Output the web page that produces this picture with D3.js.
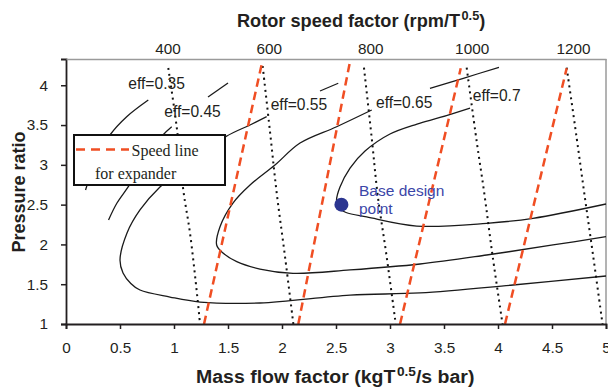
<!DOCTYPE html>
<html>
<head>
<meta charset="utf-8">
<script src="https://cdn.jsdelivr.net/npm/d3@7"></script>
<style>
  html, body { margin: 0; padding: 0; background: #fff; }
  svg { display: block; }
  text { font-family: "Liberation Sans", Arial, sans-serif; fill: #231f20; }
</style>
</head>
<body>
<svg id="chart" width="608" height="391"></svg>
<script>
// ---------- data ----------
const massTicks = [0, 0.5, 1, 1.5, 2, 2.5, 3, 3.5, 4, 4.5, 5];
const prTicks = [1, 1.5, 2, 2.5, 3, 3.5, 4];
const rpmTicks = [400, 600, 800, 1000, 1200];

// efficiency contours (each is a list of visible segments, [massFlow, pressureRatio])
const eff035 = [[[0.762,3.815],[0.562,3.605],[0.407,3.375],[0.278,3.061],[0.181,2.684]]];
const eff045 = [
  [[1.500,4.028],[1.315,3.853]],
  [[0.979,3.479],[0.898,3.375],[0.731,3.061],[0.577,2.725],[0.472,2.520],[0.394,2.307]]
];
const eff055 = [
  [[2.521,4.025],[2.352,3.928]],
  [[1.858,3.605],[1.704,3.501],[1.479,3.354],[1.148,3.023],[0.870,2.722],[0.685,2.433],
   [0.565,2.144],[0.500,1.804],[0.528,1.641],[0.600,1.510],[0.685,1.427],[0.963,1.339],[1.241,1.276],
   [1.796,1.264],[2.630,1.364],[3.278,1.390],[4.139,1.490],[5.000,1.603]]
];
const eff065 = [
  [[4.009,4.226],[3.679,4.088],[3.370,3.962]],
  [[2.831,3.689],[2.506,3.479],[2.167,3.274],[1.935,2.998],[1.704,2.747],[1.546,2.520],
   [1.426,2.223],[1.395,1.993],[1.454,1.892],[1.581,1.783],[1.796,1.691],[2.102,1.637],
   [2.630,1.679],[3.278,1.754],[3.895,1.867],[4.509,1.993],[5.000,2.097]]
];
const eff070 = [
  [[3.741,3.714],[3.463,3.595],[3.250,3.513],[3.000,3.388],[2.769,3.174],[2.630,2.960],
   [2.537,2.722],[2.505,2.558],[2.523,2.458],[2.593,2.401],[2.784,2.345],[3.247,2.231],
   [3.895,2.265],[4.324,2.328],[5.000,2.508]]
];
const contours = [eff035, eff045, eff055, eff065, eff070];

// rotor speed lines (black dotted): 400, 600, 800, 1000, 1200
const speed400 = [[0.947,4.217],[1.025,3.475],[1.086,2.684],[1.148,2.144],[1.216,1.339],[1.241,1.0]];
const speed600 = [[1.821,4.242],[1.889,3.416],[1.951,2.646],[2.028,1.846],[2.105,1.0]];
const speed800 = [[2.759,4.221],[2.831,3.333],[2.886,2.621],[2.969,1.846],[3.053,1.0]];
const speed1000 = [[3.710,4.221],[3.803,3.291],[3.870,2.671],[3.951,1.846],[4.042,1.0]];
const speed1200 = [[4.636,4.221],[4.729,3.333],[4.796,2.671],[4.882,1.846],[4.968,1.0]];
const speedLines = [speed400, speed600, speed800, speed1000, speed1200];

// expander speed lines (red dashed)
const expander = [
  [[1.278,1.0],[1.818,4.299]],
  [[2.151,1.0],[2.630,4.299]],
  [[3.093,1.0],[3.655,4.213]],
  [[4.065,1.0],[4.636,4.213]]
];

const designPoint = [2.55, 2.50];

const effLabels = ["eff=0.35", "eff=0.45", "eff=0.55", "eff=0.65", "eff=0.7"];
const effLabelAt = [[0.577,3.947],[0.910,3.601],[1.895,3.689],[2.870,3.711],[3.766,3.806]];
const designLabel = ["Base design", "point"];
const designLabelAt = [[2.713,2.608],[2.713,2.382]];
const legendLines = ["Speed line", "for expander"];

// ---------- drawing ----------
const svg = d3.select("#chart");
const x = d3.scaleLinear().domain([0, 5]).range([66, 606]);
const y = d3.scaleLinear().domain([1, 4.33]).range([324, 59]);
const rpm = d3.scaleLinear().domain([200, 1265]).range([66, 606]);

const line = d3.line().x(d => x(d[0])).y(d => y(d[1]));
const smooth = d3.line().x(d => x(d[0])).y(d => y(d[1])).curve(d3.curveCatmullRom.alpha(0.5));

// frame (right gray)
svg.append("line").attr("x1", x(5)).attr("x2", x(5)).attr("y1", y(4.33)).attr("y2", y(1))
  .attr("stroke", "#9a9a9a").attr("stroke-width", 1.5);

// contours
contours.forEach(c => c.forEach(seg => {
  svg.append("path").attr("d", smooth(seg)).attr("fill", "none")
    .attr("stroke", "#1a1a1a").attr("stroke-width", 1.3);
}));

// rotor speed dotted lines
speedLines.forEach(s => {
  svg.append("path").attr("d", smooth(s)).attr("fill", "none")
    .attr("stroke", "#111").attr("stroke-width", 2).attr("stroke-dasharray", "2,4");
});

// expander lines
expander.forEach(s => {
  svg.append("path").attr("d", line(s)).attr("fill", "none")
    .attr("stroke", "#f04e23").attr("stroke-width", 2.5).attr("stroke-dasharray", "8.5,5");
});

// design point
svg.append("circle").attr("cx", x(designPoint[0])).attr("cy", y(designPoint[1])).attr("r", 7)
  .attr("fill", "#2b3590");
designLabel.forEach((t, i) => {
  svg.append("text").attr("x", x(designLabelAt[i][0])).attr("y", y(designLabelAt[i][1]))
    .attr("font-size", 15.5).style("fill", "#3b46a8").text(t);
});

// efficiency labels
effLabels.forEach((t, i) => {
  svg.append("text").attr("x", x(effLabelAt[i][0])).attr("y", y(effLabelAt[i][1]))
    .attr("font-size", 15.6).text(t);
});

// axes
const axStroke = "#231f20";
const gx = svg.append("g").attr("transform", `translate(0,${y(1)})`)
  .call(d3.axisBottom(x).tickValues(massTicks).tickSize(5).tickPadding(13)
        .tickFormat(d => String(+d.toFixed(1))));
const gy = svg.append("g").attr("transform", `translate(${x(0)},0)`)
  .call(d3.axisLeft(y).tickValues(prTicks).tickSize(5).tickPadding(13)
        .tickFormat(d => String(+d.toFixed(1))));
const gt = svg.append("g").attr("transform", `translate(0,${y(4.33)})`)
  .call(d3.axisTop(rpm).tickValues(rpmTicks).tickSize(0).tickPadding(5)
        .tickFormat(d3.format("d")));

[gx, gy].forEach(g => {
  g.select(".domain").attr("stroke", axStroke).attr("stroke-width", 1.8);
  g.selectAll(".tick line").attr("stroke", axStroke).attr("stroke-width", 1.5);
});
gt.select(".domain").attr("stroke", "#9a9a9a").attr("stroke-width", 1.5);
[gx, gy, gt].forEach(g => {
  g.attr("font-family", null).attr("font-size", null);
  g.selectAll(".tick text").attr("font-size", 15.3).style("fill", "#231f20");
});

// titles (stretched horizontally to the reference's width)
function stretched(x0, yb, width, parts) {
  const g = svg.append("g");
  const t = g.append("text").attr("x", 0).attr("y", 0)
    .attr("font-size", 18.5).attr("font-weight", "bold");
  parts.forEach(p => {
    const ts = t.append("tspan").text(p.t);
    if (p.sup) ts.attr("font-size", 13).attr("dy", -7).attr("dx", 1.5);
    if (p.after) ts.attr("dy", 7);
  });
  const w = t.node().getComputedTextLength();
  g.attr("transform", `translate(${x0},${yb}) scale(${width / w},1)`);
}
stretched(237, 26.5, 247, [{t: "Rotor speed factor (rpm/T"}, {t: "0.5", sup: true}, {t: ")", after: true}]);
stretched(196, 383, 277, [{t: "Mass flow factor (kgT"}, {t: "0.5", sup: true}, {t: "/s bar)", after: true}]);

svg.append("text").attr("transform", "translate(24.5,192) rotate(-90)")
  .attr("text-anchor", "middle").attr("font-size", 18).attr("font-weight", "bold")
  .text("Pressure ratio");

// legend
const lg = svg.append("g");
lg.append("rect").attr("x", 74).attr("y", 135).attr("width", 151).attr("height", 50)
  .attr("fill", "#fff").attr("stroke", "#111").attr("stroke-width", 2);
lg.append("line").attr("x1", 76).attr("x2", 129).attr("y1", 149.5).attr("y2", 149.5)
  .attr("stroke", "#f04e23").attr("stroke-width", 2.5).attr("stroke-dasharray", "9,6");
lg.append("text").attr("x", 131.5).attr("y", 155.5).attr("font-size", 16)
  .style("font-family", "'Liberation Serif', 'Times New Roman', serif").text(legendLines[0]);
lg.append("text").attr("x", 95).attr("y", 179).attr("font-size", 16)
  .style("font-family", "'Liberation Serif', 'Times New Roman', serif").text(legendLines[1]);
</script>
</body>
</html>
